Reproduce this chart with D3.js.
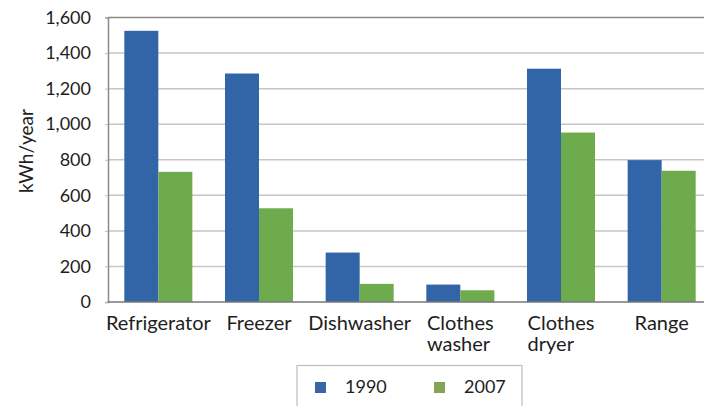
<!DOCTYPE html>
<html>
<head>
<meta charset="utf-8">
<style>
    body { margin: 0; background: #fff; }
    text { font-family: Lato, "DejaVu Sans", sans-serif; fill: #1e1e1e; }
</style>
</head>
<body>
<svg width="704" height="406"></svg>
<script src="https://d3js.org/d3.v7.min.js"></script>
<script>
    // data
    const categories = ["Refrigerator", "Freezer", "Dishwasher", "Clothes\nwasher", "Clothes\ndryer", "Range"];
    const seriesNames = ["1990", "2007"];
    const values1990 = [1525, 1285, 278, 98, 1312, 798];
    const values2007 = [732, 527, 102, 66, 953, 738];
    const yTicks = [0, 200, 400, 600, 800, 1000, 1200, 1400, 1600];
    const colors = ["#3265a8", "#6dab4d"];

    const rows = categories.map((c, i) => ({ cat: c, vals: [values1990[i], values2007[i]] }));

    const svg = d3.select("svg");
    const plotL = 108, plotT = 17.5, plotB = 302, plotR = 712;

    const x0 = d3.scaleBand().domain(categories).range([plotL, plotR]);
    const x1 = d3.scaleBand().domain(seriesNames).range([0, x0.bandwidth()])
        .paddingInner(0).paddingOuter(0.48);
    const y = d3.scaleLinear().domain([0, 1600]).range([plotB, plotT]);
    const color = d3.scaleOrdinal().domain(seriesNames).range(colors);

    // gridlines
    svg.append("g").selectAll("line")
        .data(yTicks.filter(t => t > 0 && t < 1600))
        .join("line")
        .attr("x1", plotL).attr("x2", 704)
        .attr("y1", d => y(d)).attr("y2", d => y(d))
        .attr("stroke", "#c6c6c6").attr("stroke-width", 1.5);

    // frame: top line, left axis
    svg.append("line").attr("x1", plotL).attr("x2", 704)
        .attr("y1", y(1600)).attr("y2", y(1600))
        .attr("stroke", "#8a8a8a").attr("stroke-width", 1.5);

    const yAxis = d3.axisLeft(y).tickValues(yTicks).tickSize(3).tickPadding(14)
        .tickFormat(d3.format(","));
    const gy = svg.append("g").attr("transform", `translate(${plotL},0)`).call(yAxis);
    gy.select(".domain").attr("stroke", "#8a8a8a").attr("stroke-width", 1.5);
    gy.selectAll(".tick line").attr("stroke", "#bbb");
    gy.selectAll(".tick text").attr("font-size", 18).attr("font-family", "Lato").attr("fill", "#1e1e1e");

    // bars
    const groups = svg.append("g").selectAll("g")
        .data(rows).join("g")
        .attr("transform", d => `translate(${x0(d.cat)},0)`);
    groups.selectAll("rect")
        .data(d => d.vals.map((v, i) => ({ key: seriesNames[i], v })))
        .join("rect")
        .attr("x", d => x1(d.key))
        .attr("width", x1.bandwidth())
        .attr("y", d => y(d.v))
        .attr("height", d => y(0) - y(d.v))
        .attr("fill", d => color(d.key));

    // baseline
    svg.append("line").attr("x1", plotL).attr("x2", 704)
        .attr("y1", y(0)).attr("y2", y(0))
        .attr("stroke", "#777").attr("stroke-width", 1.5);

    // category labels (multi-line ones left aligned inside a centered block)
    categories.forEach(c => {
        const lines = c.split("\n");
        const txts = lines.map((ln, i) =>
            svg.append("text").attr("font-size", 20).attr("x", 0).attr("y", 330 + i * 21).text(ln));
        const w = d3.max(txts, t => t.node().getComputedTextLength());
        const cx = x0(c) + x0.bandwidth() / 2;
        txts.forEach(t => t.attr("x", cx - w / 2));
    });

    // y title
    svg.append("text")
        .attr("transform", "translate(33,151) rotate(-90)")
        .attr("text-anchor", "middle")
        .attr("font-size", 19)
        .text("kWh/year");

    // legend
    const lg = svg.append("g");
    lg.append("rect").attr("x", 297).attr("y", 365.5).attr("width", 225).attr("height", 50)
        .attr("fill", "#fff").attr("stroke", "#bdbdbd").attr("stroke-width", 1.2);
    seriesNames.forEach((s, i) => {
        const lx = 315 + i * 119;
        lg.append("rect").attr("x", lx).attr("y", 382).attr("width", 11).attr("height", 11)
            .attr("fill", i === 0 ? "#3a65a6" : "#84a355");
        lg.append("text").attr("x", lx + 30).attr("y", 393).attr("font-size", 18).text(s);
    });
</script>
</body>
</html>
